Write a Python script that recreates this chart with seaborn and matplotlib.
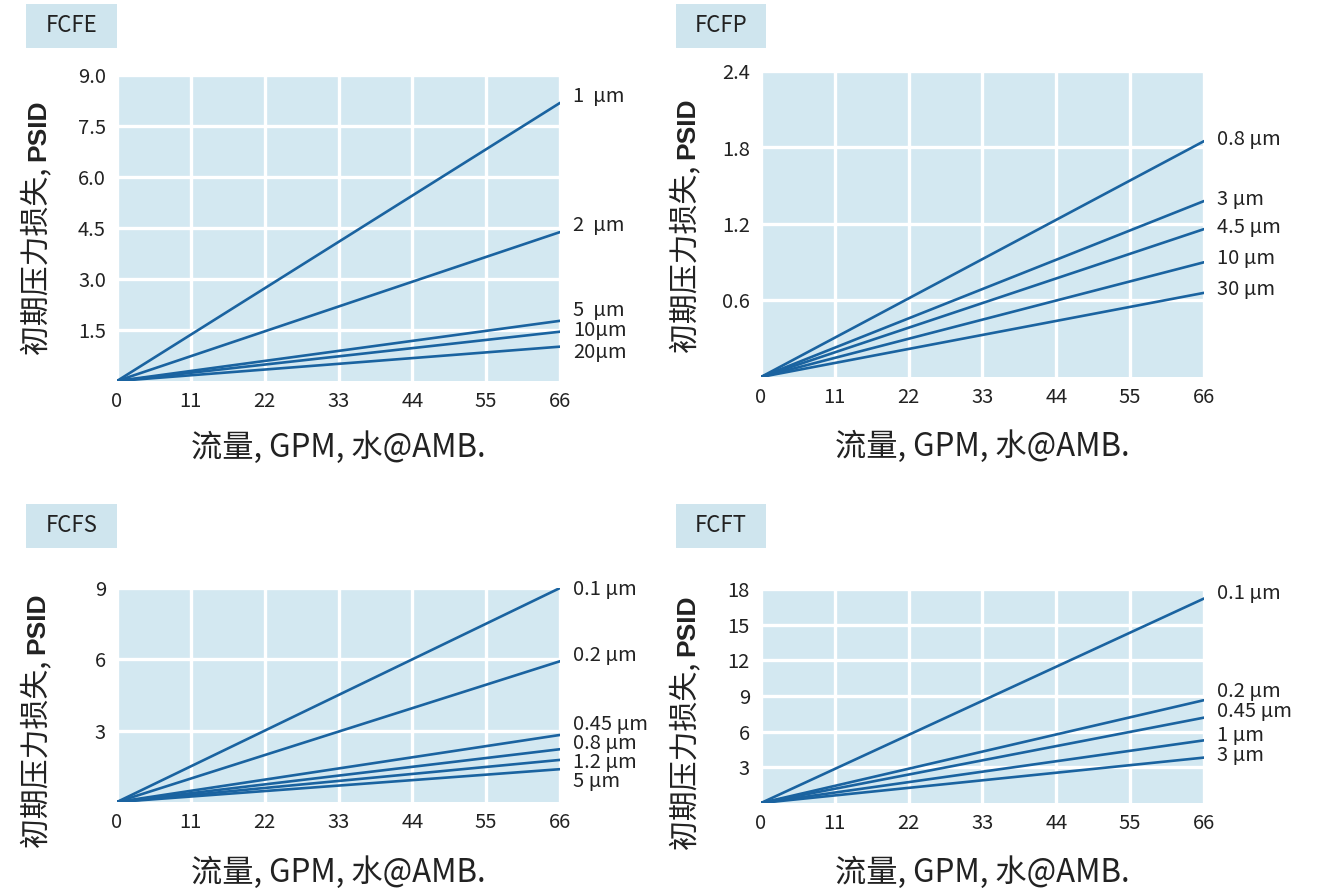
import pandas as pd
import matplotlib.pyplot as plt
import seaborn as sns
from matplotlib.patches import Rectangle

# flow range (GPM) and pressure drop (PSID) at full flow for each grade
flow = [0, 66]
flow_ticks = [0, 11, 22, 33, 44, 55, 66]

fcfe_sizes = ['1  µm', '2  µm', '5  µm', '10µm', '20µm']
fcfe_drop = [8.18, 4.38, 1.77, 1.45, 1.01]
fcfe_ticks = [1.5, 3.0, 4.5, 6.0, 7.5, 9.0]

fcfp_sizes = ['0.8 µm', '3 µm', '4.5 µm', '10 µm', '30 µm']
fcfp_drop = [1.85, 1.38, 1.16, 0.90, 0.66]
fcfp_ticks = [0.6, 1.2, 1.8, 2.4]

fcfs_sizes = ['0.1 µm', '0.2 µm', '0.45 µm', '0.8 µm', '1.2 µm', '5 µm']
fcfs_drop = [9.0, 5.92, 2.82, 2.22, 1.77, 1.38]
fcfs_ticks = [3, 6, 9]

fcft_sizes = ['0.1 µm', '0.2 µm', '0.45 µm', '1 µm', '3 µm']
fcft_drop = [17.2, 8.65, 7.18, 5.27, 3.82]
fcft_ticks = [3, 6, 9, 12, 15, 18]

XLABEL = '流量, GPM, 水@AMB.'
YLABEL_CN = '初期压力损失, '
YLABEL_UNIT = 'PSID'

LINE = '#1a63a0'
PANEL_BG = '#d3e8f1'
BOX_BG = '#cfe5ee'
TXT = '#222222'
W, H = 1326, 888


def make_frame(sizes, drops):
    rows = []
    for s, d in zip(sizes, drops):
        for f in flow:
            rows.append({'size': s, 'flow': f, 'drop': d * f / flow[-1]})
    return pd.DataFrame(rows)


def draw_panel(fig, rect, title, title_rect, sizes, drops, yticks, fmt,
               label_y, ylab_x, ylab_start, xlab_px):
    x0, y0, x1, y1 = rect
    ax = fig.add_axes([x0 / W, 1 - y1 / H, (x1 - x0) / W, (y1 - y0) / H])
    ax.set_facecolor(PANEL_BG)

    df = make_frame(sizes, drops)
    sns.lineplot(data=df, x='flow', y='drop', hue='size', palette=[LINE] * len(sizes),
                 linewidth=1.9, legend=False, ax=ax)

    ax.set_xlim(0, 66)
    ax.set_ylim(0, yticks[-1])
    ax.set_xticks(flow_ticks)
    ax.set_yticks(yticks)
    ax.set_yticklabels([fmt.format(t) for t in yticks])
    ax.grid(True, color='white', linewidth=2.4)
    ax.set_axisbelow(True)
    for sp in ax.spines.values():
        sp.set_visible(False)
    ax.tick_params(length=0, labelsize=14.5, colors=TXT)
    ax.tick_params(axis='y', pad=8)
    ax.tick_params(axis='x', pad=7)

    ax.set_xlabel(XLABEL, fontsize=22.5, color=TXT)
    ax.xaxis.set_label_coords(0.5, -(xlab_px - y1) / (y1 - y0))
    ax.xaxis.label.set_verticalalignment('center')
    ax.set_ylabel('')

    # y label: Chinese part regular, unit bold
    t1 = ax.text(ylab_x, ylab_start, YLABEL_CN, transform=ax.transAxes, rotation=90,
                 fontsize=21.5, color=TXT, ha='center', va='bottom')
    ax.annotate(YLABEL_UNIT, xy=(0.5, 1.0), xycoords=t1, rotation=90,
                fontsize=19, fontweight='bold', family=['Liberation Sans'],
                color=TXT, ha='center', va='bottom')

    # grade labels at the right end of each line
    for s, ly in zip(sizes, label_y):
        ax.text(1.03, ly, s, transform=ax.get_yaxis_transform(), fontsize=14.5,
                color=TXT, va='center', ha='left')

    # title box
    bx0, by0, bx1, by1 = title_rect
    fig.patches.append(Rectangle((bx0 / W, 1 - by1 / H), (bx1 - bx0) / W, (by1 - by0) / H,
                                 transform=fig.transFigure, facecolor=BOX_BG,
                                 edgecolor='none'))
    fig.text((bx0 + bx1) / 2 / W, 1 - (by0 + by1) / 2 / H, title, fontsize=16,
             color=TXT, ha='center', va='center')
    return ax


sns.set_theme(style='white')
plt.rcParams['font.family'] = ['Noto Sans CJK SC', 'DejaVu Sans']

fig = plt.figure(figsize=(W / 100, H / 100), dpi=100)

draw_panel(fig, (117, 75, 560, 381), 'FCFE', (26, 4, 117, 48),
           fcfe_sizes, fcfe_drop, fcfe_ticks, '{:.1f}',
           [8.36, 4.56, 2.07, 1.50, 0.83], -0.178, 0.085, 448)
draw_panel(fig, (761, 71, 1204, 377), 'FCFP', (676, 4, 766, 48),
           fcfp_sizes, fcfp_drop, fcfp_ticks, '{:.1f}',
           [1.86, 1.39, 1.17, 0.93, 0.69], -0.167, 0.078, 447)
draw_panel(fig, (117, 588, 560, 802), 'FCFS', (26, 504, 117, 548),
           fcfs_sizes, fcfs_drop, fcfs_ticks, '{:d}',
           [8.95, 6.18, 3.24, 2.46, 1.65, 0.85], -0.18, -0.215, 873)
draw_panel(fig, (761, 589, 1204, 803), 'FCFT', (676, 504, 766, 548),
           fcft_sizes, fcft_drop, fcft_ticks, '{:d}',
           [17.6, 9.41, 7.67, 5.7, 4.03], -0.167, -0.22, 873)

fig.savefig('out.png', dpi=100, facecolor='white')
